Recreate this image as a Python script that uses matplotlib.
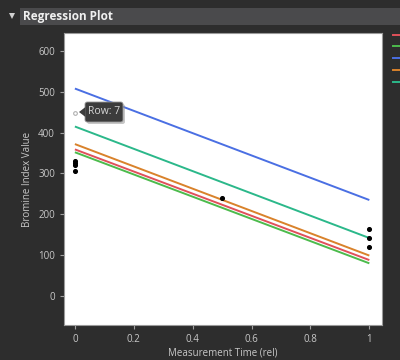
import matplotlib
matplotlib.use('Agg')
import matplotlib.pyplot as plt
from matplotlib.patches import Rectangle, FancyBboxPatch, Polygon
from matplotlib.lines import Line2D

# fitted regression lines: value at t=0 and t=1
line_names = ['red', 'green', 'blue', 'orange', 'teal']
line_colors = ['#e0505a', '#4cbb4c', '#4a6fe3', '#d9822b', '#2bb88a']
line_start = [359, 352, 508, 372, 415]
line_end = [88, 80, 235, 99, 142]

# measured points
pts_x = [0, 0, 0, 0, 0.5, 1, 1, 1]
pts_y = [331, 326, 321, 306, 240, 164, 143, 121]
sel_x = [0]
sel_y = [448]

bg = '#2d2d2d'
fg = '#c8c8c8'
plt.rcParams['font.family'] = ['Open Sans', 'DejaVu Sans']

fig = plt.figure(figsize=(4.0, 3.6), dpi=100, facecolor=bg)

# header bar
fig.patches.append(Rectangle((20 / 400, 1 - 25 / 360), 380 / 400, 17 / 360,
                             transform=fig.transFigure, facecolor='#4a4a4c',
                             edgecolor='none'))
fig.patches.append(Polygon([[9 / 400, 1 - 13 / 360], [15 / 400, 1 - 13 / 360],
                            [12 / 400, 1 - 19 / 360]], closed=True,
                           transform=fig.transFigure, facecolor='#d0d0d0',
                           edgecolor='none'))
fig.text(23 / 400, 1 - 16.5 / 360, 'Regression Plot', color='#f0f0f0',
         fontsize=8.5, fontweight='bold', va='center', ha='left')

ax = fig.add_axes([64 / 400, 35 / 360, 318 / 400, 292 / 360])
ax.set_facecolor('white')

for c, y0, y1 in zip(line_colors, line_start, line_end):
    ax.plot([0, 1], [y0, y1], color=c, lw=1.4, solid_capstyle='butt')

ax.scatter(pts_x, pts_y, s=7, color='black', zorder=5)
ax.scatter(sel_x, sel_y, s=7, facecolor='white', edgecolor='#b0b0b0',
           lw=0.8, zorder=5)

ax.set_xlim(-0.037, 1.043)
ax.set_ylim(-71, 644)
ax.set_xticks([0, 0.2, 0.4, 0.6, 0.8, 1])
ax.set_xticklabels(['0', '0.2', '0.4', '0.6', '0.8', '1'])
ax.set_yticks([0, 100, 200, 300, 400, 500, 600])
ax.tick_params(colors='#a0a0a0', labelcolor=fg, labelsize=7, length=3, width=0.8)
for s in ax.spines.values():
    s.set_color('#9a9a9a')
ax.set_xlabel('Measurement Time (rel)', color=fg, fontsize=7, labelpad=2)
ax.set_ylabel('Bromine Index Value', color=fg, fontsize=7, labelpad=4)

# tooltip for the selected row (with a soft shadow)
fig.patches.append(FancyBboxPatch((87 / 400, 1 - 124 / 360), 38 / 400, 20 / 360,
                                  boxstyle='round,pad=0.0,rounding_size=0.006',
                                  transform=fig.transFigure, facecolor='#909090',
                                  edgecolor='none', alpha=0.5, zorder=9))
tip = FancyBboxPatch((85 / 400, 1 - 122 / 360), 38 / 400, 20 / 360,
                     boxstyle='round,pad=0.0,rounding_size=0.006',
                     transform=fig.transFigure, facecolor='#3c3c3c',
                     edgecolor='#9a9a9a', lw=0.6, zorder=10)
fig.patches.append(tip)
fig.patches.append(Polygon([[79 / 400, 1 - 112 / 360], [85.5 / 400, 1 - 107 / 360],
                            [85.5 / 400, 1 - 117 / 360]], closed=True,
                           transform=fig.transFigure, facecolor='#3c3c3c',
                           edgecolor='none', zorder=11))
fig.text(104 / 400, 1 - 112 / 360, 'Row: 7', color='#d8d8d8', fontsize=7.5,
         ha='center', va='center', zorder=12)

# cut-off legend swatches on the right edge
for i, c in enumerate(line_colors):
    y = 1 - (34.7 + 11.7 * i) / 360
    fig.lines.append(Line2D([393 / 400, 1.0], [y, y], transform=fig.transFigure,
                            color=c, lw=1.4))

fig.savefig('out.png', dpi=100, facecolor=bg)
